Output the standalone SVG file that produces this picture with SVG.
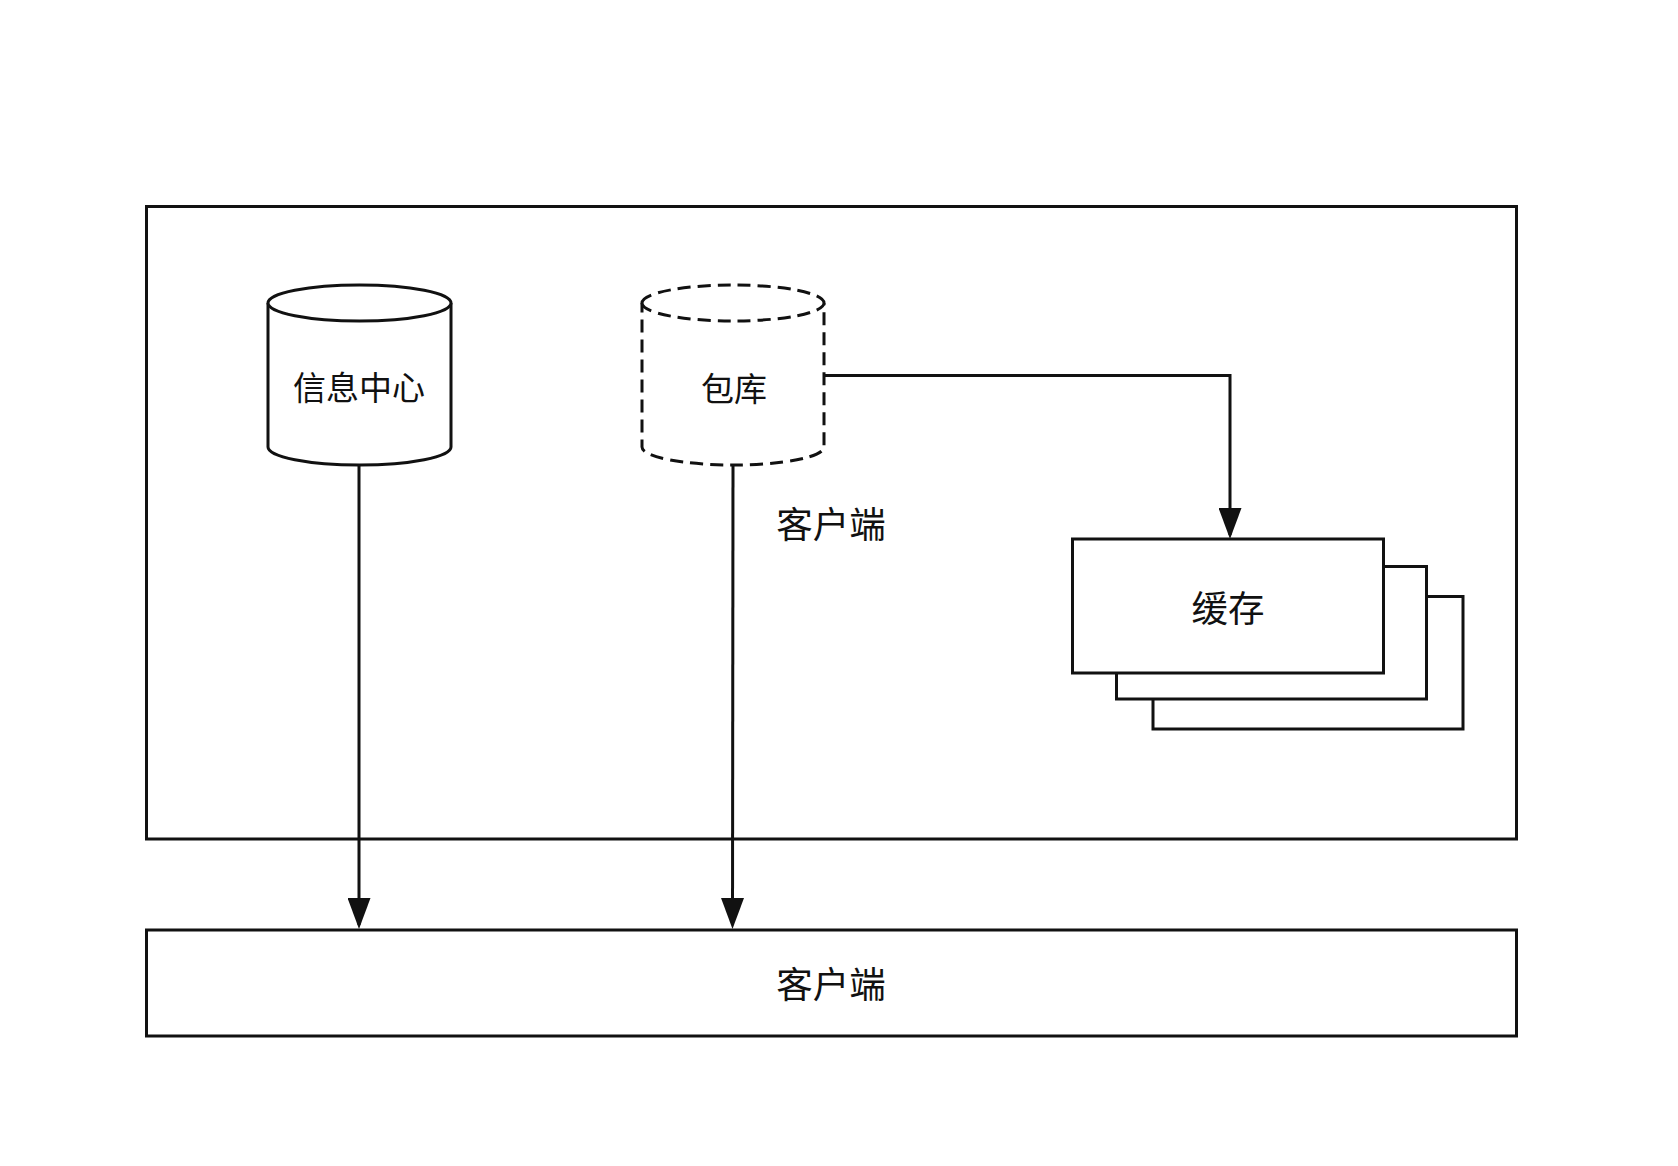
<svg xmlns="http://www.w3.org/2000/svg" width="1678" height="1166" viewBox="0 0 1678 1166">
<style>
.box{fill:#fff;stroke:#111;stroke-width:3}
.cyl{fill:#fff;stroke:#111;stroke-width:3}
.dash{stroke-dasharray:13 7}
.lbl{font-family:"Noto Sans CJK SC","Noto Sans",sans-serif;font-size:33px;fill:#111;text-anchor:middle;dominant-baseline:central}
.big{font-size:36.5px}
.conn{fill:none;stroke:#111;stroke-width:3}
</style>
<defs>
<marker id="arr" viewBox="0 0 31 23" refX="27" refY="11.5" markerWidth="31" markerHeight="23" markerUnits="userSpaceOnUse" orient="auto">
<path d="M0,0 L31,11.5 L0,23 Z" fill="#111"/>
</marker>
</defs>
<rect width="1678" height="1166" fill="#fff"/>
<g id="container">
<rect class="box" x="146.5" y="206.5" width="1370" height="632.5"/>
</g>
<g id="client">
<rect class="box" x="146.5" y="930" width="1370" height="106"/>
<text class="lbl big" x="831" y="982">客户端</text>
</g>
<g id="info-center">
<path class="cyl" d="M268,303 A91.5,18 0 0 1 451,303 L451,447 A91.5,18 0 0 1 268,447 Z"/>
<path class="cyl" fill="none" d="M268,303 A91.5,18 0 0 0 451,303"/>
<text class="lbl" x="359" y="386">信息中心</text>
</g>
<g id="package-repo">
<path class="cyl dash" d="M642,303 A91,18 0 0 1 824,303 L824,447 A91,18 0 0 1 642,447 Z"/>
<path class="cyl dash" fill="none" d="M642,303 A91,18 0 0 0 824,303"/>
<text class="lbl" x="734" y="387">包库</text>
</g>
<g id="client-label">
<text class="lbl big" x="831" y="522">客户端</text>
</g>
<g id="cache">
<rect class="box" x="1153" y="596.5" width="310" height="132.5"/>
<rect class="box" x="1116.5" y="566.5" width="310" height="132.5"/>
<rect class="box" x="1072.5" y="539" width="311" height="134"/>
<text class="lbl big" x="1228" y="606">缓存</text>
</g>
<g id="connectors">
<path class="conn" d="M359,465 L359,925" marker-end="url(#arr)"/>
<path class="conn" d="M733,465 L732.5,925" marker-end="url(#arr)"/>
<path class="conn" d="M824,375.5 L1230,375.5 L1230,535" marker-end="url(#arr)"/>
</g>
</svg>
